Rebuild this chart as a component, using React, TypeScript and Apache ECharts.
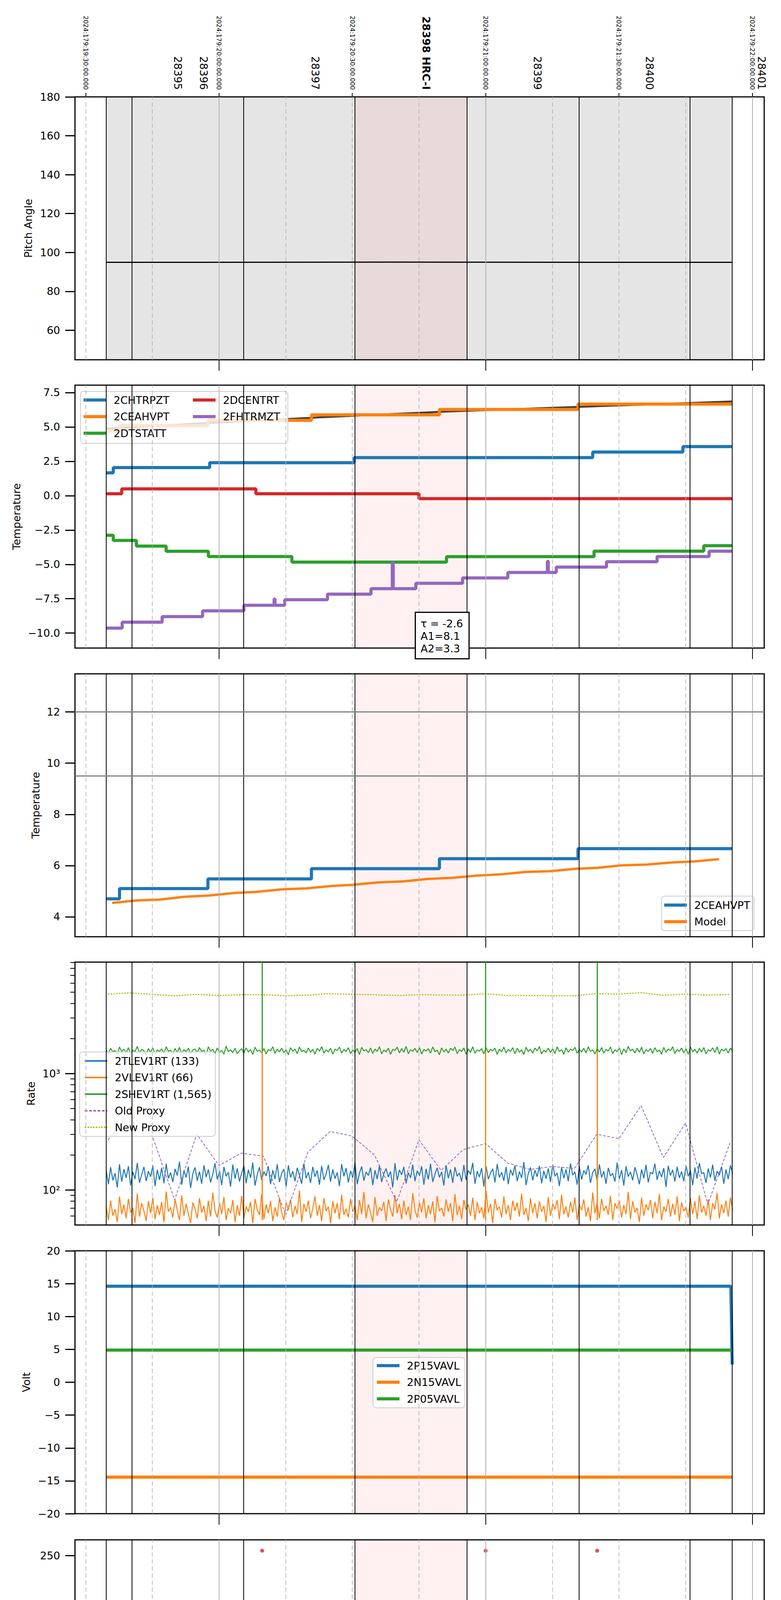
import { useRef, useEffect } from "react";
import * as echarts from "echarts";

const FONT = "DejaVu Sans";

// x is minutes after 15:00 local time, 2024-06-27
const timeMin = 27.58;
const timeMax = 182.7;

const hourTicks = [60, 120, 180];
const hourLabels = ["16h", "17h", "18h"];
const quarterTicks = [30, 45, 75, 90, 105, 135, 150, 165];
const quarterLabels = ["30", "45", "15", "30", "45", "15", "30", "45"];
const dateTicks = [30, 60, 90, 120, 150, 180];
const dateLabels = [
  "2024:179:19:30:00.000",
  "2024:179:20:00:00.000",
  "2024:179:20:30:00.000",
  "2024:179:21:00:00.000",
  "2024:179:21:30:00.000",
  "2024:179:22:00:00.000",
];
const obsidLabelTimes = [50.7, 56.5, 81.7, 106.6, 131.7, 156.9, 182.1];
const obsidNames = ["28395", "28396", "28397", "28398 HRC-I", "28399", "28400", "28401"];
const boldObsid = "28398 HRC-I";
const obsidBounds = [34.6, 40.4, 65.5, 90.6, 115.8, 141.0, 166.0, 175.5];
const hrcSpan = [90.6, 115.8];
const pitchSpan = [34.6, 175.5];

// panel 1: pitch
const pitchTicks = [60, 80, 100, 120, 140, 160, 180];
const pitchT = [34.6, 100.0, 175.5];
const pitchV = [94.9, 95.0, 94.9];

// panel 2: temperatures
const tempTicks = [-10, -7.5, -5, -2.5, 0, 2.5, 5, 7.5];
const chtrpztT = [34.6, 36.2, 57.9, 90.4, 144.1, 164.4, 175.5];
const chtrpztV = [1.66, 2.04, 2.4, 2.77, 3.17, 3.57, 3.57];
const ceahvptT = [34.6, 37.6, 57.5, 80.8, 109.6, 140.8, 175.5];
const ceahvptV = [4.7, 5.1, 5.48, 5.88, 6.27, 6.66, 6.66];
const ceaTrendT = [34.6, 57.5, 81.0, 111.8, 140.0, 175.5];
const ceaTrendV = [4.88, 5.29, 5.67, 6.13, 6.45, 6.85];
const dtstattT = [34.6, 36.2, 41.4, 48.1, 57.6, 76.4, 111.2, 144.4, 169.1, 175.5];
const dtstattV = [-2.88, -3.26, -3.67, -4.05, -4.43, -4.84, -4.44, -4.04, -3.64, -3.64];
const dcentrtT = [34.6, 38.1, 68.3, 105.0, 175.5];
const dcentrtV = [0.14, 0.49, 0.14, -0.22, -0.22];
const fhtrmztT = [34.6, 38.2, 47.2, 56.3, 65.6, 72.4, 72.6, 74.8, 84.4, 94.2, 99.0, 99.2, 104.3, 114.8, 125.0, 133.9, 134.1, 135.9, 147.2, 158.6, 170.3, 175.5];
const fhtrmztV = [-9.64, -9.21, -8.8, -8.38, -7.98, -7.52, -7.98, -7.57, -7.17, -6.77, -4.85, -6.77, -6.38, -5.99, -5.59, -4.77, -5.59, -5.2, -4.81, -4.43, -4.04, -4.04];

// panel 3: 2CEAHVPT and model
const ceaTicks = [4, 6, 8, 10, 12];
const ceaLimits = [12, 9.5];
const modelT = [35.95, 41.5, 46.6, 52.2, 57.8, 63.4, 68.4, 74.0, 79.6, 85.2, 90.2, 95.8, 101.4, 107.0, 112.6, 118.2, 123.8, 128.9, 134.5, 140.1, 145.1, 150.7, 156.3, 161.9, 166.9, 172.5];
const modelV = [4.54, 4.64, 4.67, 4.78, 4.83, 4.93, 4.97, 5.07, 5.11, 5.2, 5.25, 5.34, 5.38, 5.48, 5.52, 5.61, 5.66, 5.75, 5.78, 5.87, 5.91, 6.01, 6.04, 6.12, 6.16, 6.25];

// panel 4: rates (one sample every half minute from 15:34.6)
const rateTicks = [100, 1000];
const rateMinorTicks = [60, 70, 80, 90, 200, 300, 400, 500, 600, 700, 800, 900, 2000, 3000, 4000, 5000, 6000, 7000, 8000, 9000];
const rateStart = 34.6;
const rateStep = 0.5;
const tlev1rt = [
  148, 112, 157, 121, 139, 105, 166, 118, 151, 127, 160, 109, 143, 124, 171, 115, 136, 158, 119, 145,
  130, 162, 108, 149, 122, 155, 114, 168, 126, 141, 117, 152, 133, 175, 111, 147, 128, 159, 104, 138,
  156, 120, 144, 113, 163, 129, 150, 116, 137, 170, 123, 146, 110, 158, 131, 142, 107, 165, 125, 153,
  118, 140, 161, 114, 149, 127, 172, 109, 135, 157, 121, 144, 132, 160, 112, 148, 124, 166, 117, 139,
  151, 106, 163, 128, 145, 119, 155, 134, 113, 169, 126, 142, 115, 158, 130, 147, 111, 161, 122, 137,
  164, 118, 150, 125, 141, 108, 167, 131, 154, 116, 146, 127, 173, 112, 139, 159, 120, 143, 133, 156,
  110, 148, 124, 162, 117, 138, 153, 129, 144, 105, 170, 121, 149, 135, 158, 114, 141, 127, 165, 119,
  146, 132, 160, 111, 152, 123, 168, 117, 137, 155, 128, 143, 109, 163, 126, 150, 115, 157, 131, 140,
  118, 164, 122, 147, 136, 171, 113, 145, 129, 154, 107, 160, 124, 139, 152, 116, 167, 128, 142, 120,
  158, 112, 149, 133, 162, 119, 144, 127, 174, 110, 138, 156, 121, 148, 130, 161, 114, 146, 125, 153,
  117, 165, 131, 140, 108, 157, 126, 150, 119, 169, 134, 143, 111, 159, 123, 147, 136, 163, 115, 141,
  152, 120, 166, 128, 145, 113, 155, 132, 139, 118, 172, 124, 148, 109, 160, 130, 143, 121, 157, 135,
  112, 150, 126, 164, 116, 142, 137, 168, 122, 146, 129, 154, 106, 161, 133, 149, 118, 158, 127, 144,
  119, 162, 131, 147, 110, 156, 125, 170, 138, 141, 115, 153, 128, 165, 120, 145, 134, 159, 113, 150,
  124, 163, 137,
];
const vlev1rt = [
  72, 55, 81, 60, 68, 53, 88, 62, 75, 57, 84, 64, 70, 52, 93, 59, 77, 66, 54, 80,
  63, 86, 56, 74, 61, 79, 53, 97, 65, 71, 58, 83, 67, 55, 90, 60, 76, 62, 52, 78,
  69, 57, 85, 64, 73, 54, 81, 59, 95, 66, 58, 77, 62, 87, 55, 70, 63, 82, 53, 74,
  60, 89, 57, 72, 65, 79, 52, 84, 68, 61, 92, 56, 75, 63, 80, 54, 71, 59, 86, 64,
  55, 78, 67, 83, 58, 73, 62, 99, 53, 76, 65, 81, 57, 70, 88, 60, 74, 54, 85, 66,
  72, 52, 80, 63, 77, 56, 91, 61, 69, 58, 84, 65, 73, 55, 82, 62, 96, 57, 75, 64,
  53, 87, 60, 71, 66, 79, 54, 83, 68, 59, 90, 63, 76, 56, 81, 61, 72, 55, 94, 67,
  58, 78, 64, 85, 57, 74, 62, 80, 53, 89, 66, 70, 59, 83, 65, 77, 54, 92, 61, 73,
  56, 82, 68, 75, 60, 86, 55, 79, 63, 71, 57, 98, 64, 76, 52, 84, 67, 72, 58, 88,
  62, 74, 55, 81, 66, 78, 59, 93, 61, 70, 54, 85, 63, 77, 57, 80, 65, 73, 53, 87,
  60, 76, 68, 82, 56, 91, 62, 72, 58, 79, 64, 86, 55, 75, 67, 83, 59, 71, 54, 95,
  63, 78, 57, 84, 66, 73, 61, 89, 55, 77, 69, 81, 58, 74, 62, 96, 56, 80, 64, 70,
  53, 86, 60, 75, 67, 82, 57, 79, 63, 92, 55, 72, 65, 84, 59, 76, 61, 88, 54, 78,
  66, 71, 58, 85, 62, 80, 56, 90, 64, 73, 60, 83, 55, 77, 68, 94, 57, 75, 63, 81,
  59, 86, 67,
];
const shev1rt = [
  1600, 1490, 1650, 1530, 1580, 1460, 1690, 1550, 1620, 1510, 1670, 1480, 1590, 1540, 1710, 1500, 1610, 1570, 1450, 1640,
  1520, 1660, 1470, 1600, 1545, 1630, 1495, 1700, 1555, 1585, 1465, 1645, 1515, 1680, 1490, 1605, 1535, 1655, 1475, 1595,
  1625, 1505, 1675, 1540, 1590, 1455, 1695, 1560, 1615, 1485, 1660, 1525, 1580, 1470, 1720, 1545, 1600, 1510, 1650, 1480,
  1570, 1635, 1495, 1665, 1530, 1605, 1460, 1685, 1550, 1590, 1505, 1640, 1475, 1610, 1565, 1700, 1490, 1620, 1535, 1655,
  1510, 1595, 1445, 1670, 1555, 1625, 1480, 1690, 1540, 1580, 1500, 1660, 1525, 1615, 1470, 1645, 1560, 1705, 1495, 1600,
  1530, 1650, 1465, 1620, 1575, 1690, 1500, 1610, 1545, 1670, 1485, 1595, 1520, 1640, 1455, 1680, 1565, 1605, 1510, 1660,
  1490, 1625, 1550, 1700, 1475, 1590, 1535, 1655, 1460, 1615, 1580, 1685, 1505, 1640, 1525, 1710, 1480, 1600, 1555, 1645,
  1515, 1675, 1470, 1610, 1560, 1635, 1495, 1695, 1540, 1585, 1450, 1665, 1530, 1620, 1500, 1650, 1575, 1690, 1485, 1605,
  1545, 1660, 1465, 1630, 1520, 1700, 1490, 1595, 1555, 1640, 1475, 1680, 1510, 1615, 1570, 1655, 1460, 1625, 1535, 1690,
  1500, 1610, 1550, 1670, 1480, 1645, 1525, 1600, 1455, 1685, 1540, 1620, 1495, 1660, 1565, 1705, 1470, 1590, 1530, 1650,
  1515, 1635, 1485, 1695, 1545, 1605, 1460, 1665, 1520, 1625, 1575, 1680, 1490, 1610, 1535, 1650, 1505, 1700, 1550, 1595,
  1470, 1640, 1530, 1675, 1495, 1615, 1560, 1690, 1480, 1600, 1540, 1660, 1455, 1630, 1510, 1710, 1565, 1620, 1500, 1655,
  1525, 1685, 1475, 1605, 1550, 1645, 1490, 1670, 1535, 1595, 1465, 1680, 1520, 1625, 1570, 1700, 1485, 1610, 1545, 1660,
  1505, 1635, 1460, 1690, 1540, 1615, 1495, 1650, 1530, 1675, 1480, 1600, 1555, 1665, 1515, 1695, 1470, 1620, 1560, 1640,
  1500, 1655, 1545,
];
const proxyT = [35, 40, 45, 50, 55, 60, 65, 70, 75, 80, 85, 90, 95, 100, 105, 110, 115, 120, 125, 130, 135, 140, 145, 150, 155, 160, 165, 170, 175];
const oldProxy = [269, 455, 290, 82, 301, 162, 207, 195, 61, 211, 318, 290, 199, 79, 269, 147, 223, 250, 170, 150, 159, 153, 301, 276, 530, 190, 375, 75, 254];
const newProxy = [4810, 4930, 4786, 4645, 4786, 4680, 4750, 4750, 4660, 4715, 4860, 4786, 4750, 4680, 4750, 4730, 4715, 4840, 4680, 4680, 4660, 4660, 4860, 4810, 4950, 4700, 4810, 4715, 4786];
const spikeTimes = [69.7, 120.0, 145.1];
const vlevSpike = [55, 1565];
const shevSpike = [1565, 9060];

// panel 5: voltages
const voltTicks = [-20, -15, -10, -5, 0, 5, 10, 15, 20];
const p15T = [34.6, 175.2, 175.5];
const p15V = [14.6, 14.6, 2.7];
const n15T = [34.6, 175.5];
const n15V = [-14.45, -14.45];
const p05T = [34.6, 175.5];
const p05V = [4.89, 4.89];

// panel 6: HV monitors
const hvTicks = [0, 50, 100, 150, 200, 250];
const imhvlvT = [34.6, 175.5];
const imhvlvV = [79, 79];
const imhblvT = [34.6, 175.5];
const imhblvV = [86, 86];
const imhblvOutV = [255, 255, 255];

// panel 7: detector temperatures
const detTicks = [0, 2.5, 5, 7.5, 10, 12.5, 15];
const spinatmT = [34.6, 38.2, 44.1, 52.7, 67.8, 112.9, 175.5];
const spinatmV = [3.65, 3.15, 2.69, 2.21, 1.74, 1.28, 1.28];
const sphvatmT = [34.6, 50.0, 81.0, 107.6, 111.6, 111.8, 134.6, 163.7, 175.5];
const sphvatmV = [12.64, 12.97, 13.29, 13.64, 13.2, 13.64, 13.97, 14.32, 14.32];
const iminatmT = [34.6, 73.4, 73.6, 74.0, 175.5];
const iminatmV = [-0.51, -0.07, -0.51, -0.07, -0.07];
const imhvatmT = [34.6, 40.2, 47.4, 55.6, 64.8, 69.6, 69.7, 75.4, 87.8, 102.6, 119.9, 120.0, 120.5, 139.5, 145.0, 145.1, 164.1, 166.5, 166.7, 175.5];
const imhvatmV = [12.65, 12.99, 13.31, 13.64, 13.99, -5, 13.99, 14.32, 14.67, 15.0, -5, 15.0, 15.35, 15.68, -5, 15.68, 16.03, 15.6, 16.03, 16.03];

// panel 8: FEA temperatures
const feaTicks = [-10, -8, -6, -4, -2];
const fradpytT = [34.6, 36.8, 46.0, 55.8, 65.3, 75.1, 85.4, 96.4, 107.3, 118.5, 130.3, 142.1, 154.4, 166.9, 175.5];
const fradpytV = [-12.3, -11.77, -11.33, -10.9, -10.48, -10.05, -9.62, -9.21, -8.79, -8.38, -7.98, -7.57, -7.17, -6.77, -6.77];
const fepratmT = [34.6, 37.2, 43.2, 50.0, 57.6, 65.8, 69.6, 69.8, 74.6, 84.1, 93.6, 103.9, 114.9, 119.9, 120.1, 126.3, 138.0, 145.0, 145.2, 150.5, 163.2, 175.5];
const fepratmV = [-8.13, -7.69, -7.28, -6.87, -6.46, -6.04, -8.5, -6.04, -5.62, -5.21, -4.79, -4.37, -3.96, -6.35, -3.96, -3.53, -3.11, -5.5, -3.11, -2.69, -2.27, -2.27];
const fe00atmT = [34.6, 34.9, 41.0, 47.4, 53.6, 60.0, 67.5, 69.6, 69.7, 71.4, 71.6, 74.9, 75.1, 82.2, 89.8, 92.0, 92.2, 96.2, 96.4, 97.9, 99.7, 99.9, 105.9, 113.7, 113.9, 114.0, 116.0, 116.2, 119.9, 120.0, 123.0, 132.0, 140.8, 145.0, 145.1, 149.1, 149.3, 149.9, 154.2, 154.4, 159.3, 169.3, 174.1, 174.3, 175.5];
const fe00atmV = [-10.81, -10.42, -10.04, -9.67, -9.3, -8.93, -8.56, -13, -8.56, -8.15, -8.56, -8.96, -8.18, -7.82, -7.46, -8.6, -7.46, -7.87, -7.46, -7.11, -6.73, -7.11, -6.75, -5.67, -6.75, -6.4, -6.02, -6.4, -13, -6.4, -6.04, -5.69, -5.35, -13, -5.35, -4.62, -5.35, -4.99, -5.4, -4.99, -4.65, -4.32, -3.93, -4.32, -4.32];

const BLUE = "#1f77b4";
const ORANGE = "#ff7f0e";
const GREEN = "#2ca02c";
const RED = "#d62728";
const PURPLE = "#9467bd";
const OLIVE = "#bcbd22";

// legend handles for the dashed proxy lines (58 x 4 boxes)
const DASH_ICON = "path://M0,0h7v4h-7z M11,0h7v4h-7z M22,0h7v4h-7z M33,0h7v4h-7z M44,0h7v4h-7z M55,0h3v4h-3z";
const DOT_ICON = "path://M0,0h4v4h-4z M7,0h4v4h-4z M14,0h4v4h-4z M21,0h4v4h-4z M28,0h4v4h-4z M35,0h4v4h-4z M42,0h4v4h-4z M49,0h4v4h-4z M56,0h2v4h-2z";

const GRID_TOPS = [248, 986, 1725, 2463, 3202, 3942, 4681, 5420];
const GRID_H = 673;

const txt = { color: "#000", fontFamily: FONT };
const zip = (t: number[], v: number[]) => t.map((x, i) => [x, v[i]]);
const sampled = (vals: number[]) => vals.map((v, i) => [rateStart + i * rateStep, v]);
const minus = (s: string) => s.replace("-", "\u2212");

function line(name: string, color: string, data: any[], axis: number, width = 8, step: any = false, dash: any = "solid") {
  return {
    type: "line",
    name,
    data,
    xAxisIndex: axis,
    yAxisIndex: axis,
    symbol: "none",
    showSymbol: false,
    step,
    silent: true,
    z: 3,
    lineStyle: { color, width, type: dash },
    itemStyle: { color },
    emphasis: { disabled: true },
  };
}

function yAxis(grid: number, min: number, max: number, ticks: number[], fmt: any, name: string, nameGap: number, type = "value") {
  return {
    type,
    gridIndex: grid,
    position: "left",
    min,
    max,
    axisLine: { show: false, onZero: false },
    splitLine: { show: false },
    axisTick: { show: true, customValues: ticks, length: 25, lineStyle: { color: "#000", width: 3 } },
    axisLabel: { show: true, customValues: ticks, formatter: fmt, fontSize: 27, margin: 38, ...txt },
    name,
    nameLocation: "middle",
    nameGap,
    nameMoveOverlap: false,
    nameTextStyle: { fontSize: 27, ...txt },
  };
}

function legend(data: any[], left: number, top: number, padding: number[], framed = true, itemHeight = 8, icon = "rect") {
  return {
    show: true,
    orient: "vertical",
    left,
    top,
    padding,
    data,
    icon,
    itemWidth: 58,
    itemHeight,
    itemGap: 14.5,
    selectedMode: false,
    formatter: (n: string) => n.split("#")[0],
    textStyle: { fontSize: 27, lineHeight: 28, padding: [0, 0, 0, 14], ...txt },
    backgroundColor: framed ? "rgba(255,255,255,0.8)" : "transparent",
    borderColor: framed ? "#cccccc" : "transparent",
    borderWidth: framed ? 2 : 0,
    borderRadius: 8,
  };
}

function shading(i: number) {
  const areas: any[] = [];
  if (i === 0) areas.push([{ xAxis: pitchSpan[0], itemStyle: { color: "#e5e5e5" } }, { xAxis: pitchSpan[1] }]);
  areas.push([{ xAxis: hrcSpan[0], itemStyle: { color: "rgba(255,140,140,0.12)" } }, { xAxis: hrcSpan[1] }]);
  return {
    type: "line",
    name: `shade#${i}`,
    xAxisIndex: i,
    yAxisIndex: i,
    data: [],
    z: 0,
    silent: true,
    markArea: { silent: true, label: { show: false }, data: areas },
  };
}

function gridLines(i: number) {
  const lines: any[] = [
    ...hourTicks.map((x) => ({ xAxis: x, lineStyle: { color: "#b0b0b0", width: 2, type: "solid" } })),
    ...quarterTicks.map((x) => ({ xAxis: x, lineStyle: { color: "#b0b0b0", width: 1.6, type: [11, 7] } })),
    ...obsidBounds.map((x) => ({ xAxis: x, lineStyle: { color: "#000", width: 2, type: "solid" } })),
  ];
  if (i === 2) ceaLimits.forEach((y) => lines.push({ yAxis: y, lineStyle: { color: "#808080", width: 3, type: "solid" } }));
  return {
    type: "line",
    name: `grid#${i}`,
    xAxisIndex: i,
    yAxisIndex: i,
    data: [],
    z: 1,
    silent: true,
    markLine: { silent: true, symbol: ["none", "none"], label: { show: false }, data: lines },
  };
}

function spikes(values: number[]) {
  return spikeTimes.map((t) => [{ coord: [t, values[0]] }, { coord: [t, values[1]] }]);
}

function buildOption(): any {
  const grid = GRID_TOPS.map((top) => ({
    left: 192,
    right: 43,
    top,
    height: GRID_H,
    show: true,
    borderColor: "#000",
    borderWidth: 3,
    backgroundColor: "transparent",
    z: 5,
    outerBoundsMode: "none",
    containLabel: false,
  }));

  const xAxis: any[] = GRID_TOPS.map((_, i) => ({
    type: "value",
    gridIndex: i,
    min: timeMin,
    max: timeMax,
    position: "bottom",
    axisLine: { show: false, onZero: false },
    splitLine: { show: false },
    axisTick: { show: true, customValues: hourTicks, length: 28, lineStyle: { color: "#000", width: 2 } },
    axisLabel:
      i === 7
        ? { show: true, customValues: hourTicks, formatter: (v: number) => hourLabels[hourTicks.indexOf(v)] ?? "", fontSize: 28, margin: 33, ...txt }
        : { show: false },
  }));
  // minor labels + axis title on the last panel
  xAxis.push({
    type: "value",
    gridIndex: 7,
    min: timeMin,
    max: timeMax,
    position: "bottom",
    axisLine: { show: false, onZero: false },
    splitLine: { show: false },
    axisTick: { show: false },
    axisLabel: {
      show: true,
      customValues: quarterTicks,
      formatter: (v: number) => quarterLabels[quarterTicks.indexOf(v)] ?? "",
      fontSize: 22,
      margin: 3,
      ...txt,
    },
    name: "2024-06-27 (179)",
    nameLocation: "middle",
    nameGap: 71,
    nameMoveOverlap: false,
    nameTextStyle: { fontSize: 33, ...txt },
  });
  // date labels on top of the first panel
  xAxis.push({
    type: "value",
    gridIndex: 0,
    min: timeMin,
    max: timeMax,
    position: "top",
    axisLine: { show: false, onZero: false },
    splitLine: { show: false },
    axisTick: { show: true, customValues: dateTicks, length: 10, lineStyle: { color: "#000", width: 2 } },
    axisLabel: {
      show: true,
      customValues: dateTicks,
      formatter: (v: number) => dateLabels[dateTicks.indexOf(v)] ?? "",
      rotate: 90,
      fontSize: 16,
      margin: 18,
      ...txt,
    },
  });
  // obsid labels
  xAxis.push({
    type: "value",
    gridIndex: 0,
    min: timeMin,
    max: timeMax,
    position: "top",
    axisLine: { show: false, onZero: false },
    splitLine: { show: false },
    axisTick: { show: false },
    axisLabel: {
      show: true,
      customValues: obsidLabelTimes,
      formatter: (v: number) => {
        const k = obsidLabelTimes.findIndex((t) => Math.abs(t - v) < 1e-6);
        const s = obsidNames[k] ?? "";
        return s === boldObsid ? `{b|${s}}` : s;
      },
      rotate: 90,
      fontSize: 27,
      margin: 18,
      ...txt,
      rich: { b: { fontWeight: "bold", fontSize: 27, ...txt } },
    },
  });

  const yAxes: any[] = [
    yAxis(0, 44.8, 180, pitchTicks, (v: number) => String(v), "Pitch Angle", 106),
    yAxis(1, -11.09, 8.04, tempTicks, (v: number) => minus(v.toFixed(1)), "Temperature", 136),
    yAxis(2, 3.22, 13.49, ceaTicks, (v: number) => String(v), "Temperature", 87),
    yAxis(3, 50, 9060, rateTicks, (v: number) => (v < 500 ? "10\u00b2" : "10\u00b3"), "Rate", 99, "log"),
    yAxis(4, -20, 20, voltTicks, (v: number) => minus(String(v)), "Volt", 111),
    yAxis(5, 0, 266, hvTicks, (v: number) => String(v), "HV Monitor", 104),
    yAxis(6, -2.04, 17.18, detTicks, (v: number) => v.toFixed(1), "Detector Temp", 116),
    yAxis(7, -11.98, -1.62, feaTicks, (v: number) => String(v), "FEA Temp", 110),
  ];
  // minor ticks of the log axis
  yAxes.push({
    type: "log",
    gridIndex: 3,
    position: "left",
    min: 50,
    max: 9060,
    axisLine: { show: false, onZero: false },
    splitLine: { show: false },
    axisTick: { show: true, customValues: rateMinorTicks, length: 12, lineStyle: { color: "#000", width: 2 } },
    axisLabel: { show: false },
  });

  const series: any[] = [];
  for (let i = 0; i < 8; i++) {
    series.push(shading(i));
    series.push(gridLines(i));
  }

  // panel 1
  series.push(line("pitch#1", "#000", zip(pitchT, pitchV), 0, 3));

  // panel 2
  series.push(line("trend#2", "#404040", zip(ceaTrendT, ceaTrendV), 1, 5));
  series.push(line("2CHTRPZT#2", BLUE, zip(chtrpztT, chtrpztV), 1, 8, "end"));
  series.push(line("2CEAHVPT#2", ORANGE, zip(ceahvptT, ceahvptV), 1, 8, "end"));
  series.push(line("2DTSTATT#2", GREEN, zip(dtstattT, dtstattV), 1, 8, "end"));
  series.push(line("2DCENTRT#2", RED, zip(dcentrtT, dcentrtV), 1, 8, "end"));
  series.push(line("2FHTRMZT#2", PURPLE, zip(fhtrmztT, fhtrmztV), 1, 8, "end"));

  // panel 3
  series.push(line("2CEAHVPT#3", BLUE, zip(ceahvptT, ceahvptV), 2, 8, "end"));
  series.push(line("Model#3", ORANGE, zip(modelT, modelV), 2, 6));

  // panel 4
  series.push(line("2TLEV1RT (133)#4", BLUE, sampled(tlev1rt), 3, 2.5));
  series.push({
    ...line("2VLEV1RT (66)#4", ORANGE, sampled(vlev1rt), 3, 2.5),
    markLine: { silent: true, symbol: ["none", "none"], label: { show: false }, lineStyle: { color: ORANGE, width: 3, type: "solid" }, data: spikes(vlevSpike) },
  });
  series.push({
    ...line("2SHEV1RT (1,565)#4", GREEN, sampled(shev1rt), 3, 2.5),
    markLine: { silent: true, symbol: ["none", "none"], label: { show: false }, lineStyle: { color: GREEN, width: 3, type: "solid" }, data: spikes(shevSpike) },
  });
  series.push(line("Old Proxy#4", PURPLE, zip(proxyT, oldProxy), 3, 2, false, [7, 4]));
  series.push(line("New Proxy#4", OLIVE, zip(proxyT, newProxy), 3, 3, false, [4, 3]));

  // panel 5
  series.push(line("2P15VAVL#5", BLUE, zip(p15T, p15V), 4, 8));
  series.push(line("2N15VAVL#5", ORANGE, zip(n15T, n15V), 4, 8));
  series.push(line("2P05VAVL#5", GREEN, zip(p05T, p05V), 4, 8));

  // panel 6
  series.push({ type: "scatter", name: "2SPHBLV#6", xAxisIndex: 5, yAxisIndex: 5, data: [], symbolSize: 9, itemStyle: { color: BLUE }, silent: true });
  series.push({ type: "scatter", name: "2SPHVLV#6", xAxisIndex: 5, yAxisIndex: 5, data: [], symbolSize: 9, itemStyle: { color: ORANGE }, silent: true });
  series.push(line("2IMHVLV#6", GREEN, zip(imhvlvT, imhvlvV), 5, 10));
  series.push(line("2IMHBLV#6", RED, zip(imhblvT, imhblvV), 5, 9));
  series.push({
    type: "scatter",
    name: "2IMHBLV#6",
    xAxisIndex: 5,
    yAxisIndex: 5,
    data: zip(spikeTimes, imhblvOutV),
    symbolSize: 10,
    itemStyle: { color: RED },
    z: 4,
    silent: true,
  });

  // panel 7
  series.push(line("2SPINATM#7", BLUE, zip(spinatmT, spinatmV), 6, 8, "end"));
  series.push(line("2SPHVATM#7", ORANGE, zip(sphvatmT, sphvatmV), 6, 8, "end"));
  series.push(line("2IMINATM#7", GREEN, zip(iminatmT, iminatmV), 6, 8, "end"));
  series.push(line("2IMHVATM#7", RED, zip(imhvatmT, imhvatmV), 6, 8, "end"));

  // panel 8
  series.push(line("2FHTRMZT#8", BLUE, zip(fhtrmztT, fhtrmztV), 7, 8, "end"));
  series.push(line("2FRADPYT#8", ORANGE, zip(fradpytT, fradpytV), 7, 8, "end"));
  series.push(line("2FEPRATM#8", GREEN, zip(fepratmT, fepratmV), 7, 8, "end"));
  series.push(line("2FE00ATM#8", RED, zip(fe00atmT, fe00atmV), 7, 8, "end"));

  const legends = [
    legend(["2CHTRPZT#2", "2CEAHVPT#2", "2DTSTATT#2"], 206, 1002, [8, 303, 12, 8]),
    legend(["2DCENTRT#2", "2FHTRMZT#2"], 486, 1002, [8, 8, 12, 8], false),
    legend(["2CEAHVPT#3", "Model#3"], 1694, 2294, [9, 10, 9, 7]),
    legend(
      ["2TLEV1RT (133)#4", "2VLEV1RT (66)#4", "2SHEV1RT (1,565)#4", { name: "Old Proxy#4", icon: DASH_ICON }, { name: "New Proxy#4", icon: DOT_ICON }],
      204, 2693, [9, 10, 9, 13], true, 4
    ),
    legend(["2P15VAVL#5", "2N15VAVL#5", "2P05VAVL#5"], 955, 3475, [7, 10, 9, 10]),
    legend(["2SPHBLV#6", "2SPHVLV#6", "2IMHVLV#6", "2IMHBLV#6"], 962, 4430, [8, 10, 9, 10], true, 10, "circle"),
    legend(["2SPINATM#7", "2SPHVATM#7", "2IMINATM#7", "2IMHVATM#7"], 1694, 4931, [8, 10, 9, 7]),
    legend(["2FHTRMZT#8", "2FRADPYT#8", "2FEPRATM#8", "2FE00ATM#8"], 204, 5434, [10, 10, 9, 10]),
  ];

  return {
    animation: false,
    backgroundColor: "#fff",
    textStyle: { fontFamily: FONT },
    grid,
    xAxis,
    yAxis: yAxes,
    legend: legends,
    series,
    graphic: [
      {
        type: "text",
        left: 1062,
        top: 1566,
        z: 50,
        silent: true,
        style: {
          text: "\u03c4 = -2.6\nA1=8.1\nA2=3.3",
          fontSize: 27,
          fontFamily: FONT,
          fill: "#000",
          lineHeight: 32,
          backgroundColor: "#fff",
          borderColor: "#000",
          borderWidth: 3,
          padding: [11, 14, 9, 12],
        },
      },
    ],
  };
}

const App = () => {
  const chartRef = useRef<HTMLDivElement>(null);

  useEffect(() => {
    if (!chartRef.current) return;
    const chart = echarts.init(chartRef.current, undefined, { renderer: "svg" });
    chart.setOption(buildOption());
    return () => {
      chart.dispose();
    };
  }, []);

  return <div ref={chartRef} style={{ position: "absolute", left: 0, top: 0, width: 2000, height: 6200 }}></div>;
};

export default App;
